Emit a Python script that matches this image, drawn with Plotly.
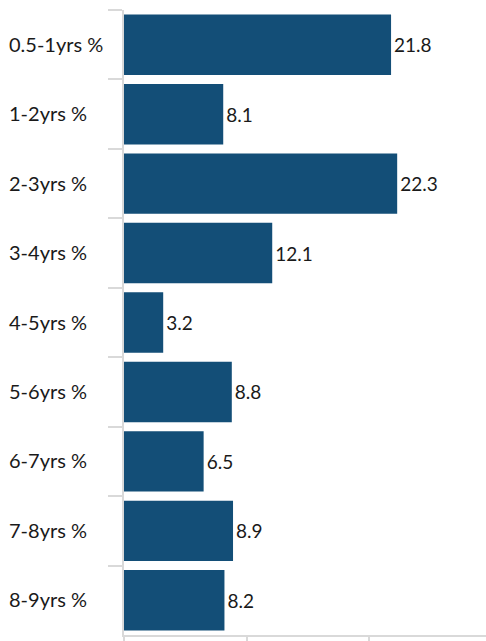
import plotly.graph_objects as go

categories = ["0.5-1yrs %", "1-2yrs %", "2-3yrs %", "3-4yrs %", "4-5yrs %",
              "5-6yrs %", "6-7yrs %", "7-8yrs %", "8-9yrs %"]
values = [21.8, 8.1, 22.3, 12.1, 3.2, 8.8, 6.5, 8.9, 8.2]
labels = [f"{v:.1f}" for v in values]

fig = go.Figure()
fig.add_trace(go.Bar(
    x=values, y=categories, orientation="h",
    marker=dict(color="#134e77", line=dict(width=0)),
    text=labels, textposition="outside", cliponaxis=False,
    textfont=dict(family="Lato", size=19, color="#1a1a1a"),
    hoverinfo="skip",
))
# invisible helper trace so the left-aligned label axis knows the categories
fig.add_trace(go.Scatter(
    x=values, y=categories, yaxis="y2", mode="markers",
    marker=dict(opacity=0), hoverinfo="skip", showlegend=False,
))

fig.update_layout(
    width=486, height=641,
    margin=dict(l=0, r=0, t=10, b=4),
    paper_bgcolor="white", plot_bgcolor="white",
    bargap=0.13, showlegend=False,
    font=dict(family="Lato", size=19, color="#1a1a1a"),
    xaxis=dict(
        domain=[124 / 486, 1],
        range=[0, 29.55], dtick=10, showticklabels=False, showgrid=False,
        zeroline=False, showline=True, linecolor="#d9d9d9", linewidth=2,
        ticks="outside", ticklen=6, tickcolor="#d9d9d9", tickwidth=2,
    ),
    yaxis=dict(
        type="category", categoryorder="array", categoryarray=categories,
        autorange="reversed", showgrid=False, showline=True,
        linecolor="#d9d9d9", linewidth=2, ticks="outside", ticklen=14,
        tickcolor="#d9d9d9", tickwidth=2, tickson="boundaries",
        showticklabels=False,
    ),
    yaxis2=dict(
        type="category", categoryorder="array", categoryarray=categories,
        overlaying="y", anchor="free", position=0, side="left",
        autorange="reversed", showgrid=False, showline=False,
        zeroline=False, ticks="", ticklabelposition="inside",
        ticklabelstandoff=5,
        tickfont=dict(family="Lato", size=20, color="#1a1a1a"),
    ),
)

fig.write_html("out.html")
